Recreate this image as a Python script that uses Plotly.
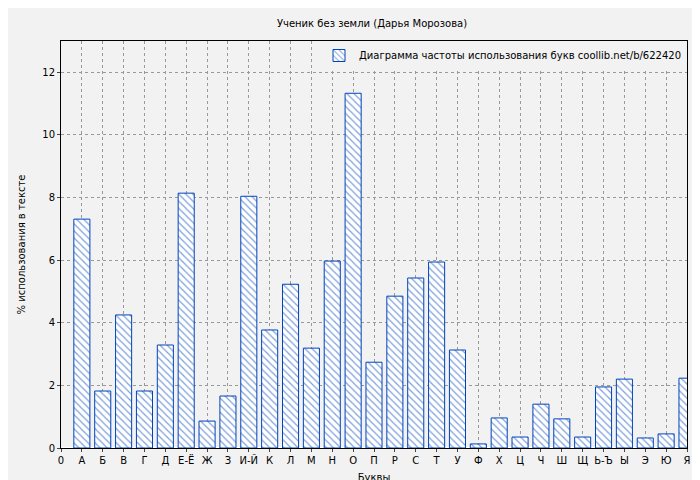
import plotly.graph_objects as go

letters = ["0","А","Б","В","Г","Д","Е-Ё","Ж","З","И-Й","К","Л","М","Н","О","П","Р","С","Т","У","Ф","Х","Ц","Ч","Ш","Щ","Ь-Ъ","Ы","Э","Ю","Я"]
values = [7.31,1.82,4.25,1.82,3.29,8.14,0.86,1.66,8.04,3.77,5.23,3.19,5.97,11.33,2.74,4.85,5.43,5.94,3.13,0.13,0.96,0.35,1.40,0.93,0.35,1.95,2.20,0.32,0.45,2.23]
xpos = list(range(1, len(values)+1))

fig = go.Figure(go.Bar(
    x=xpos, y=values, width=0.77,
    name="Диаграмма частоты использования букв coollib.net/b/622420",
    marker=dict(color="white", line=dict(color="#0044bb", width=1),
                pattern=dict(shape="\\", fgcolor="#0044bb", bgcolor="white", size=5, solidity=0.25)),
))
fig.update_layout(
    width=700, height=480,
    paper_bgcolor="#f2f2f2", plot_bgcolor="#f2f2f2",
    margin=dict(l=53, r=21, t=33, b=40, autoexpand=False),
    title=dict(text="Ученик без земли (Дарья Морозова)", x=0.52, y=0.975, font=dict(size=10, color="black")),
    font=dict(family="DejaVu Sans", size=10, color="black"),
    showlegend=True,
    legend=dict(x=1, y=1, xanchor="right", yanchor="top", bgcolor="#f2f2f2", font=dict(size=10)),
    xaxis=dict(range=[0,30], tickvals=list(range(0,31)), ticktext=letters, showgrid=True, automargin=False,
               gridcolor="#999", griddash="dot", showline=True, linecolor="black", mirror=True,
               title=dict(text="Буквы", font=dict(size=10), standoff=8), ticks="outside", ticklen=3),
    yaxis=dict(range=[0,13], dtick=2, showgrid=True, gridcolor="#999", griddash="dot", automargin=False,
               showline=True, linecolor="black", mirror=True, ticks="outside", ticklen=3,
               title=dict(text="% использования в тексте", font=dict(size=10), standoff=14)),
)
fig.write_html("out.html")
